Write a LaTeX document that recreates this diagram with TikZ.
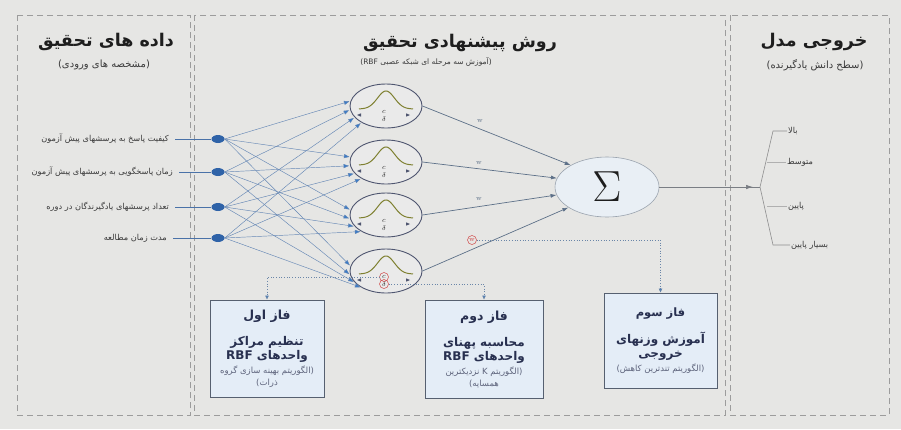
\documentclass[tikz,border=0pt]{standalone}
\usepackage{fontspec}
\newfontfamily\fa[Script=Arabic]{DejaVu Sans}
\TeXXeTstate=1
\usetikzlibrary{arrows.meta,shapes.geometric}
\definecolor{bgc}{HTML}{E6E6E4}
\definecolor{panelc}{HTML}{9C9C9C}
\definecolor{headc}{HTML}{1E1E1E}
\definecolor{subc}{HTML}{3A3A3A}
\definecolor{inc}{HTML}{4A72A8}
\definecolor{tipc}{HTML}{3A7CC8}
\definecolor{dotc}{HTML}{2F63A8}
\definecolor{neuc}{HTML}{4F5670}
\definecolor{neufill}{HTML}{EAEAEA}
\definecolor{bellc}{HTML}{7E8030}
\definecolor{hidc}{HTML}{5D7088}
\definecolor{sigfill}{HTML}{E9EFF5}
\definecolor{sigc}{HTML}{9AA3AE}
\definecolor{phfill}{HTML}{E4EDF7}
\definecolor{phc}{HTML}{566070}
\definecolor{phtext}{HTML}{283050}
\definecolor{hlred}{HTML}{D04848}
\definecolor{routec}{HTML}{6A86A8}
\definecolor{outc}{HTML}{7A7E84}
\definecolor{branchc}{HTML}{8E8E8E}
\newcommand\rl[1]{\beginR#1\endR}
\begin{document}
\begin{tikzpicture}[x=1pt,y=-1pt,
  panel/.style={draw=panelc, dashed, dash pattern=on 6pt off 4pt, line width=0.6pt},
  head/.style={font={\fa\bfseries\fontsize{17.5}{20}\selectfont}, text=headc, inner sep=1pt},
  sub/.style={font={\fa\fontsize{10}{12}\selectfont}, text=subc, inner sep=1pt},
  inlab/.style={font={\fa\fontsize{8.2}{10}\selectfont}, text=subc, inner sep=1pt, anchor=east},
  outlab/.style={font={\fa\fontsize{8.2}{10}\selectfont}, text=subc, inner sep=1pt, anchor=west},
  labline/.style={draw=inc, line width=0.5pt},
  indot/.style={ellipse, fill=dotc, minimum width=13pt, minimum height=8pt, inner sep=0pt},
  inarrow/.style={draw=inc!85, line width=0.45pt, -{Triangle[length=5.5pt,width=4pt,fill=tipc]}, shorten >=1pt},
  neuron/.style={ellipse, draw=neuc, fill=neufill, line width=0.9pt, minimum width=72pt, minimum height=44pt, inner sep=0pt},
  bell/.style={draw=bellc, line width=1pt},
  param/.style={font=\fontsize{7}{7}\selectfont, text=headc, inner sep=0.5pt},
  smark/.style={fill=neuc},
  hid/.style={draw=hidc, line width=0.7pt, -{Latex[length=6pt,width=4pt]}},
  wlab/.style={font=\fontsize{7}{7}\selectfont, text=hidc, inner sep=0.6pt},
  hlcirc/.style={circle, draw=hlred, text=hlred, line width=0.5pt, inner sep=0.6pt, minimum size=9pt},
  sigma/.style={ellipse, draw=sigc, fill=sigfill, line width=0.6pt, minimum width=104pt, minimum height=60pt, inner sep=0pt, text=headc},
  phase/.style={draw=phc, fill=phfill, line width=1pt, align=center, text=phtext, inner sep=2pt, font={\fa\bfseries\fontsize{12}{14}\selectfont}},
  route/.style={draw=routec, line width=0.7pt, dotted, -{Triangle[length=4pt,width=3.5pt,fill=tipc]}},
  outl/.style={draw=outc, line width=0.7pt},
  branch/.style={draw=branchc, line width=0.6pt}
]
\newcommand\smalltxt{\mdseries\color{phtext!75}\fontsize{8.5}{10}\selectfont}
\useasboundingbox (0,0) rectangle (901,429);
\fill[bgc] (0,0) rectangle (901,429);
% panels
\draw[panel] (17,15) rectangle (190,415);
\draw[panel] (194,15) rectangle (725,415);
\draw[panel] (730,15) rectangle (889,415);
% headings
\node[head] (h1) at (106,42) {\rl{داده های تحقیق}};
\node[sub] (s1) at (104,65) {\rl{(مشخصه های ورودی)}};
\node[head] (h2) at (460,43) {\rl{روش پیشنهادی تحقیق}};
\node[sub, font={\fa\fontsize{7.5}{9}\selectfont}] (s2) at (426,62) {\rl{(آموزش سه مرحله ای شبکه عصبی \beginL RBF\endL)}};
\node[head] (h3) at (814,42) {\rl{خروجی مدل}};
\node[sub] (s3) at (815,65) {\rl{(سطح دانش یادگیرنده)}};
% input labels and dots
\node[inlab] (l1) at (170,139) {\rl{کیفیت پاسخ به پرسشهای پیش آزمون}};
\node[inlab] (l2) at (174,172) {\rl{زمان پاسخگویی به پرسشهای پیش آزمون}};
\node[inlab] (l3) at (170,207) {\rl{تعداد پرسشهای یادگیرندگان در دوره}};
\node[inlab] (l4) at (168,238) {\rl{مدت زمان مطالعه}};
\foreach \i/\yy in {1/139,2/172,3/207,4/238}{
  \node[indot] (d\i) at (218,\yy) {};
  \draw[labline, shorten <=5pt] (l\i.east) -- (d\i.west);
}
% neurons
\foreach \i/\yy in {1/106,2/162,3/215,4/271}{
  \node[neuron] (n\i) at (386,\yy) {};
  \begin{scope}[shift={(386,\yy)}]
    \draw[bell] plot[domain=-27:27,samples=41,smooth] (\x,{3-18*exp(-(\x/12)^2)});
    \node[param] (c\i) at (-2,6) {$c$};
    \node[param] (dl\i) at (-2,13) {$\delta$};
    \fill[smark] (-29,9) -- (-25,7.3) -- (-25,10.7) -- cycle;
    \fill[smark] (24,9) -- (20,7.3) -- (20,10.7) -- cycle;
  \end{scope}
}
% input -> neuron arrows
\foreach \i/\a in {1/172,2/186,3/200,4/214}{
  \foreach \j in {1,2,3,4}{
    \draw[inarrow] (d\i.east) -- (n\j.\a);
  }
}
% sigma
\node[sigma] (sig) at (607,187) {\scalebox{1.75}{\fontsize{24.88}{26}\selectfont$\Sigma$}};
\draw[hid] (n1.east) -- (sig.149);
\draw[hid] (n2.east) -- (sig.170);
\draw[hid] (n3.east) -- (sig.189);
\draw[hid] (n4.east) -- (sig.208);
\node[wlab] (w1) at (480,121) {w};
\node[wlab] (w2) at (479,163) {w};
\node[wlab] (w3) at (479,199) {w};
\node[wlab, hlcirc] (w4) at (472,240) {w};
% highlight c and delta of neuron 4
\node[hlcirc] (rc) at (c4) {};
\node[hlcirc] (rd) at (dl4) {};
% phase boxes
\node[phase, minimum width=114pt, minimum height=97pt] (p1) at (267,348.5) {%
  {\fontsize{12.5}{14}\selectfont\rl{فاز اول}}\\[12pt]
  \rl{تنظیم مراکز}\\
  \rl{واحدهای \beginL RBF\endL}\\[0pt]
  {\smalltxt\rl{(الگوریتم بهینه سازی گروه}}\\[-2pt]
  {\smalltxt\rl{ذرات)}}};
\node[phase, minimum width=118pt, minimum height=98pt] (p2) at (484,349) {%
  {\fontsize{12.5}{14}\selectfont\rl{فاز دوم}}\\[12pt]
  \rl{محاسبه پهنای}\\
  \rl{واحدهای \beginL RBF\endL}\\[0pt]
  {\smalltxt\rl{(الگوریتم \beginL K\endL{} نزدیکترین}}\\[-2pt]
  {\smalltxt\rl{همسایه)}}};
\node[phase, minimum width=113pt, minimum height=95pt] (p3) at (660.5,340.5) {%
  {\fontsize{11.5}{13}\selectfont\rl{فاز سوم}}\\[12pt]
  \rl{آموزش وزنهای}\\
  \rl{خروجی}\\[0pt]
  {\smalltxt\rl{(الگوریتم تندترین کاهش)}}};
% dotted routes
\draw[route] (rc.west) -- (p1.north |- rc.west) -- (p1.north);
\draw[route] (rd.east) -- (p2.north |- rd.east) -- (p2.north);
\draw[route] (w4.east) -- (p3.north |- w4.east) -- (p3.north);
% output
\coordinate (tp) at (753,187);
\coordinate (j) at (760,187);
\draw[outl] (sig.east) -- (tp);
\draw[outl, -{Latex[length=7pt,width=4.5pt]}] (740,187) -- (tp);
\draw[outl] (tp) -- (j);
\node[outlab] (o1) at (787,131) {\rl{بالا}};
\node[outlab] (o2) at (786,162) {\rl{متوسط}};
\node[outlab] (o3) at (787,206) {\rl{پایین}};
\node[outlab] (o4) at (790,245) {\rl{بسیار پایین}};
\coordinate (b1) at (773,131);
\coordinate (b4) at (773,245);
\coordinate (b2) at (767,162);
\coordinate (b3) at (767,206);
\draw[branch] (o1.west) -- (b1) -- (j) -- (b4) -- (o4.west);
\draw[branch, draw=branchc!70] (b2) -- (o2.west);
\draw[branch, draw=branchc!70] (b3) -- (o3.west);
\end{tikzpicture}
\end{document}
